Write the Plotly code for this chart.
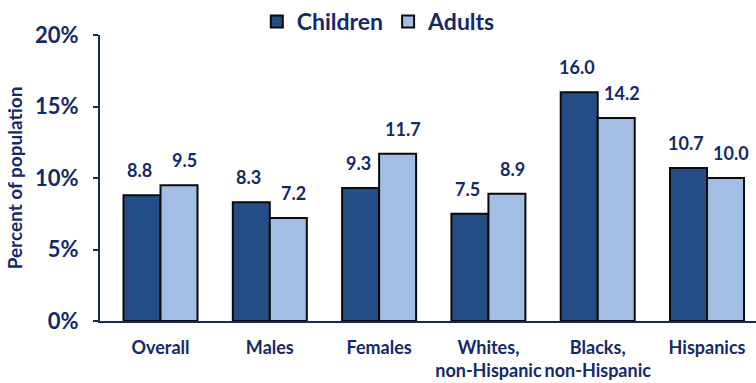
import plotly.graph_objects as go

categories = ["Overall", "Males", "Females", "Whites,<br>non-Hispanic", "Blacks,<br>non-Hispanic", "Hispanics"]
children = [8.8, 8.3, 9.3, 7.5, 16.0, 10.7]
adults = [9.5, 7.2, 11.7, 8.9, 14.2, 10.0]
y_ticks = [0, 5, 10, 15, 20]
y_tick_labels = ["0%", "5%", "10%", "15%", "20%"]

NAVY = "#13296b"
FONT = "Lato"

fig = go.Figure()
fig.add_trace(go.Bar(
    name="Children", x=categories, y=children,
    marker=dict(color="#244d86", line=dict(color="#0a0a0a", width=2)),
))
fig.add_trace(go.Bar(
    name="Adults", x=categories, y=adults,
    marker=dict(color="#a2bee4", line=dict(color="#0a0a0a", width=2)),
))

# value labels floating above each bar
for series, shift in ((children, -21), (adults, 24)):
    for cat, val in zip(categories, series):
        fig.add_annotation(
            x=cat, y=val, xref="x", yref="y", text=f"{val:.1f}",
            showarrow=False, xshift=shift, yshift=25,
            font=dict(family=FONT, size=18, color=NAVY, weight="bold"),
        )

fig.update_layout(
    width=756, height=383,
    margin=dict(l=100, r=0, t=35, b=62, autoexpand=False),
    paper_bgcolor="white", plot_bgcolor="white",
    barmode="group", bargap=0.323, bargroupgap=0,
    font=dict(family=FONT, color=NAVY),
    showlegend=True,
    legend=dict(
        orientation="h", x=0.425, xanchor="center", y=1.047, yanchor="middle",
        font=dict(family=FONT, size=23, color=NAVY, weight="bold"),
        itemwidth=30, tracegroupgap=0, bgcolor="rgba(0,0,0,0)",
    ),
    xaxis=dict(
        range=[-0.5535, 5.448],
        showline=True, linecolor=NAVY, linewidth=2, ticks="",
        tickfont=dict(family=FONT, size=18, color=NAVY, weight="bold"),
        ticklabelstandoff=9, showgrid=False,
    ),
    yaxis=dict(
        range=[0, 20], tickvals=y_ticks, ticktext=y_tick_labels,
        showline=True, linecolor=NAVY, linewidth=2,
        ticks="outside", ticklen=5, tickcolor=NAVY, tickwidth=2,
        tickfont=dict(family=FONT, size=22, color=NAVY, weight="bold"),
        ticklabelstandoff=10, showgrid=False, zeroline=False,
        title=dict(text="Percent of population", standoff=7,
                   font=dict(family=FONT, size=19, color=NAVY, weight="bold")),
    ),
)

fig.write_html("out.html")
